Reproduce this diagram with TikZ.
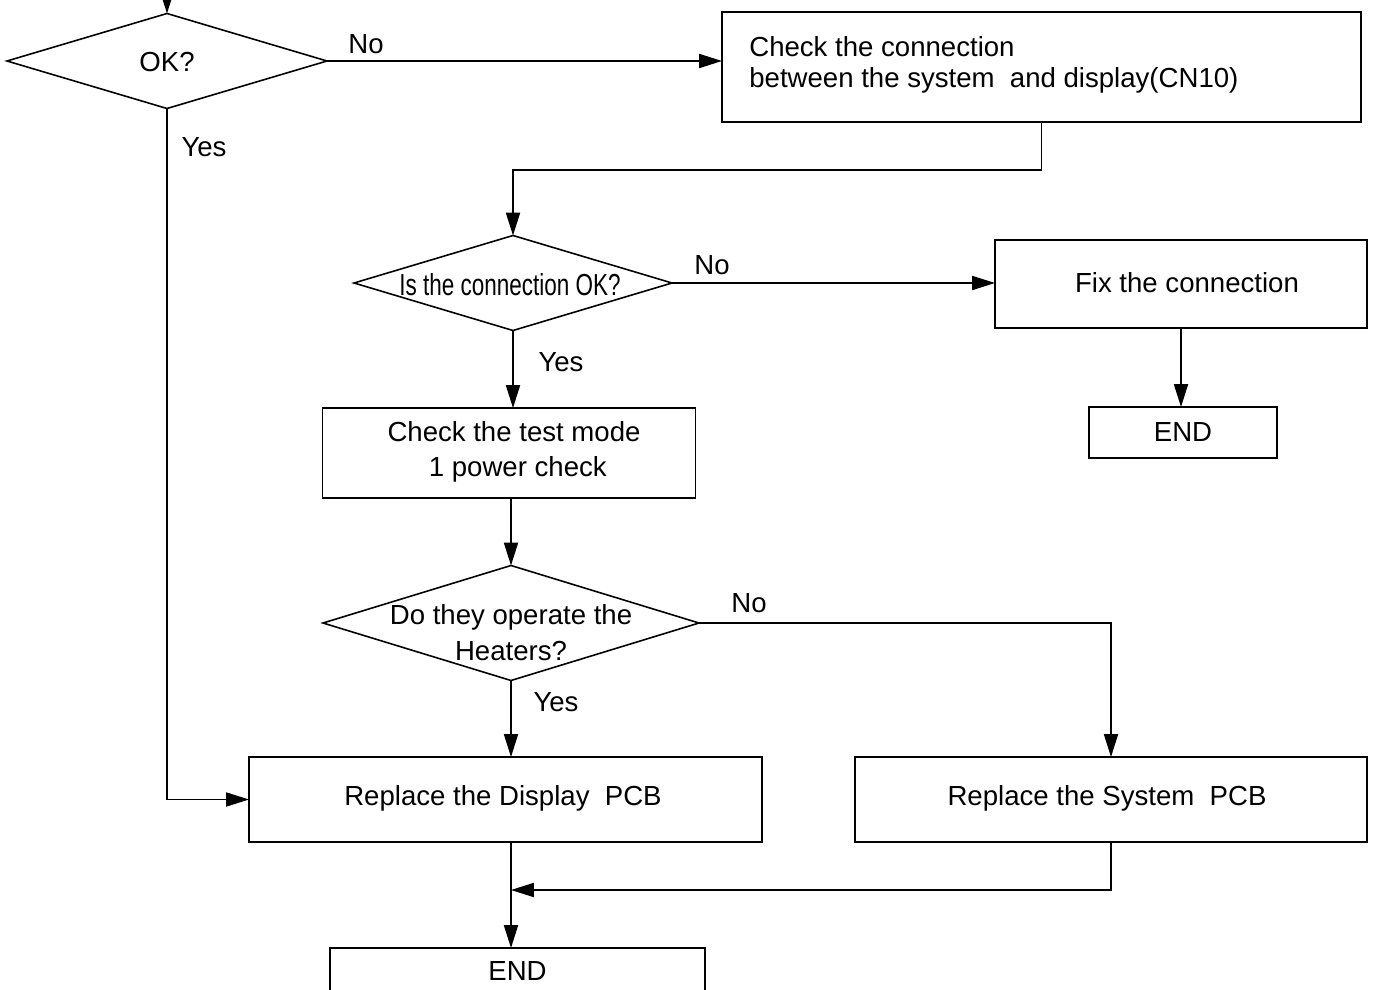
\documentclass[tikz,border=0pt]{standalone}
\usepackage{fontspec}
\usepackage{graphicx}
\setmainfont{Liberation Sans}
\usetikzlibrary{arrows.meta,shapes.geometric}
\tikzset{
  ln/.style={line width=0.9pt},
  arr/.style={ln,-{Triangle[length=13pt,width=8pt]}},
  dia/.style={ln,draw,diamond,inner sep=0pt,outer sep=0pt},
  box/.style={ln,draw,rectangle,inner sep=0pt,outer sep=0pt,align=center},
  txt/.style={inner sep=0pt,font=\fontsize{15.7}{19}\selectfont},
  lab/.style={inner sep=0pt,font=\fontsize{15.7}{19}\selectfont}
}
\begin{document}
\begin{tikzpicture}[x=0.02cm,y=-0.02cm]
\useasboundingbox (0,0) rectangle (1373,990);
% decisions
\node[dia,minimum width={320*0.02cm},minimum height={95*0.02cm}] (d1) at (167,61) {};
\node[txt] (t1) at (167,62) {OK?};
\node[dia,minimum width={318*0.02cm},minimum height={95*0.02cm}] (d2) at (513,283) {};
\node[txt] (t2) at (510,285) {\scalebox{0.74}[1]{\fontsize{17.3}{20}\selectfont Is the connection OK?}};
\node[dia,minimum width={376*0.02cm},minimum height={115*0.02cm}] (d3) at (511,623) {};
\node[txt,align=center,font=\fontsize{15.7}{20.4}\selectfont] (t3) at (511,633) {Do they operate the\\Heaters?};
% boxes
\node[box,minimum width={639*0.02cm},minimum height={110*0.02cm}] (b1) at (1041.5,67) {};
\node[txt,anchor=west,align=left,font=\fontsize{15.7}{17.6}\selectfont] (t4) at (749,65) {Check the connection\\between the system\ \ and display(CN10)};
\node[box,minimum width={372*0.02cm},minimum height={88*0.02cm}] (b2) at (1181,284) {};
\node[txt] (t5) at (1187,283) {Fix the connection};
\node[box,txt,minimum width={188*0.02cm},minimum height={51*0.02cm}] (e1) at (1183,432.5) {END};
\node[box,minimum width={373*0.02cm},minimum height={90*0.02cm}] (b3) at (509,453) {};
\node[txt,align=center,font=\fontsize{15.7}{19.8}\selectfont] (t6) at (514,452) {Check the test mode\\\ 1 power check};
\node[box,minimum width={513*0.02cm},minimum height={85*0.02cm}] (b4) at (505.5,799.5) {};
\node[txt] (t7) at (503,798) {Replace the Display\ \ PCB};
\node[box,minimum width={512*0.02cm},minimum height={85*0.02cm}] (b5) at (1111,799.5) {};
\node[txt] (t8) at (1107,798) {Replace the System\ \ PCB};
\node[box,txt,minimum width={375*0.02cm},minimum height={46*0.02cm}] (e2) at (517.5,971) {END};
% connectors
\coordinate (top) at (167,-30);
\coordinate (m) at (511,890);
\draw[arr] (top) -- (d1.north);
\draw[arr] (d1.east) -- (d1.east -| b1.west);
\draw[arr] (d1.south) |- (b4.west);
\draw[arr] (b1.south) -- ++(0,48) -| (d2.north);
\draw[arr] (d2.east) -- (d2.east -| b2.west);
\draw[arr] (b2.south) -- (b2.south |- e1.north);
\draw[arr] (d2.south) -- (d2.south |- b3.north);
\draw[arr] (b3.south -| d3.north) -- (d3.north);
\draw[arr] (d3.east) -| (b5.north);
\draw[arr] (d3.south) -- (d3.south |- b4.north);
\draw[arr] (d3.south |- b4.south) -- (d3.south |- e2.north);
\draw[arr] (b5.south) |- (m);
% labels
\node[lab] (l1) at (366,44) {No};
\node[lab] (l2) at (204,147) {Yes};
\node[lab] (l3) at (712,265) {No};
\node[lab] (l4) at (561,362) {Yes};
\node[lab] (l5) at (749,603) {No};
\node[lab] (l6) at (556,702) {Yes};
\end{tikzpicture}
\end{document}
